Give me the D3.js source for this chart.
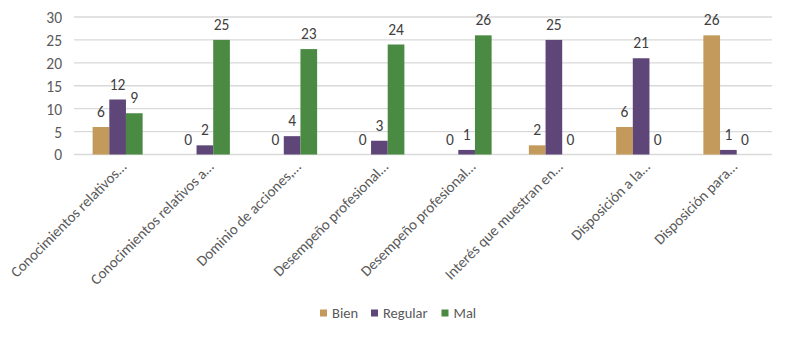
<!DOCTYPE html>
<html><head><meta charset="utf-8">
<script src="https://cdn.jsdelivr.net/npm/d3@7/dist/d3.min.js"></script>
<style>
html,body{margin:0;padding:0;background:#fff;}
text{font-family:Calibri,Carlito,Lato,"Open Sans",sans-serif;}
</style></head>
<body><svg id="c" width="790" height="338"></svg>
<script>
const categories = ["Conocimientos relativos…","Conocimientos relativos a…","Dominio de acciones,…","Desempeño profesional…","Desempeño profesional…","Interés que muestran en…","Disposición a la…","Disposición para…"];
const seriesNames = ["Bien","Regular","Mal"];
const bien = [6,0,0,0,0,2,6,26];
const regular = [12,2,4,3,1,25,21,1];
const mal = [9,25,23,24,26,0,0,0];
const yTicks = [0,5,10,15,20,25,30];
const colors = ["#c39a5b","#5f4679","#4b8a43"];

(function(){
const series = [bien, regular, mal];
const svg = d3.select("#c");
const pl = 74, pr = 772, pt = 17, pb = 154.5;
const x = d3.scaleBand().domain(d3.range(categories.length)).range([pl,pr]).paddingInner(0).paddingOuter(0);
const y = d3.scaleLinear().domain([0,30]).range([pb, pt]);
const groupW = 50;
const x1 = d3.scaleBand().domain(d3.range(3)).range([0, groupW]);

svg.append("g").selectAll("line").data(yTicks).join("line")
  .attr("x1", pl).attr("x2", pr)
  .attr("y1", d=>y(d)).attr("y2", d=>y(d))
  .attr("stroke", "#d9d9d9").attr("stroke-width", 1.3);

const yAxis = d3.axisLeft(y).tickValues(yTicks).tickSize(0).tickPadding(0);
const ya = svg.append("g").attr("transform", `translate(62,0)`).call(yAxis);
ya.select(".domain").remove();
ya.selectAll("text").attr("fill","#595959").style("font-size","15.5px").style("font-family",'Calibri,Carlito,Lato,"Open Sans",sans-serif').attr("dy","0.35em");

const groups = svg.append("g").selectAll("g").data(categories.map((c,i)=>i)).join("g")
  .attr("transform", i=>`translate(${x(i)+x.bandwidth()/2-groupW/2},0)`);
groups.selectAll("rect").data(i=>series.map((s,k)=>({k, v:s[i]}))).join("rect")
  .attr("x", d=>x1(d.k)).attr("width", x1.bandwidth())
  .attr("y", d=>y(d.v)).attr("height", d=>pb - y(d.v))
  .attr("fill", d=>colors[d.k]);
groups.selectAll("text").data(i=>series.map((s,k)=>({k, v:s[i]}))).join("text")
  .attr("x", d=>x1(d.k)+x1.bandwidth()/2).attr("y", d=>y(d.v)-10)
  .attr("text-anchor","middle").attr("fill","#404040").style("font-size","15.5px")
  .text(d=>d.v);

svg.append("g").selectAll("text").data(categories.map((c,i)=>i)).join("text")
  .attr("transform", i=>`translate(${x(i)+x.bandwidth()/2+6},${164}) rotate(-45)`)
  .attr("text-anchor","end").attr("dy","0.35em")
  .attr("fill","#595959").style("font-size","15px")
  .text(i=>categories[i]);

const legX = [320, 371, 441.5];
const lg = svg.append("g").selectAll("g").data(seriesNames).join("g")
  .attr("transform",(d,i)=>`translate(${legX[i]},313)`);
lg.append("rect").attr("x",0).attr("y",-3.5).attr("width",7).attr("height",7).attr("fill",(d,i)=>colors[i]);
lg.append("text").attr("x",12).attr("dy","0.35em").attr("fill","#595959").style("font-size","14.5px").text(d=>d);
})();
</script></body></html>
